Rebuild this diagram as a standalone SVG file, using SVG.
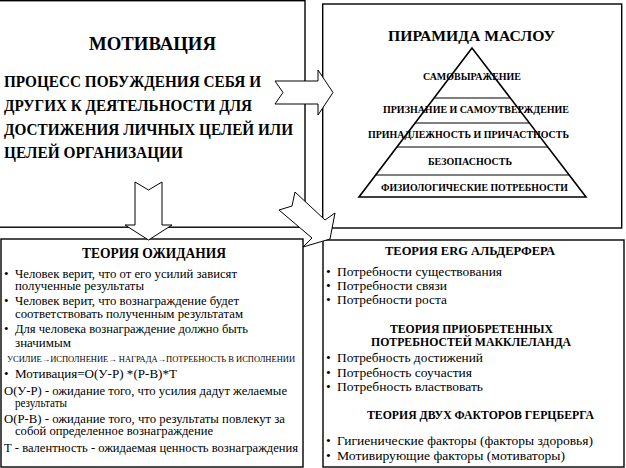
<svg xmlns="http://www.w3.org/2000/svg" width="626" height="468" viewBox="0 0 626 468" font-family="Liberation Serif">
<style>
.box{fill:#fff;stroke:#000;stroke-width:1.4}
.arr{fill:#fff;stroke:#000;stroke-width:1}
.ln{stroke:#000;stroke-width:1.2;fill:none}
</style>
<rect width="626" height="468" fill="#fff"/>
<g id="motivation">
<rect class="box" x="-2" y="0.7" width="307" height="226.5"/>
<text font-family="Liberation Serif" font-size="18.5" font-weight="bold" x="89" y="50" textLength="127" lengthAdjust="spacingAndGlyphs">МОТИВАЦИЯ</text>
<text font-family="Liberation Serif" font-size="16" font-weight="bold" x="4" y="87" textLength="257" lengthAdjust="spacingAndGlyphs">ПРОЦЕСС ПОБУЖДЕНИЯ СЕБЯ И</text>
<text font-family="Liberation Serif" font-size="16" font-weight="bold" x="4" y="111" textLength="248" lengthAdjust="spacingAndGlyphs">ДРУГИХ К ДЕЯТЕЛЬНОСТИ ДЛЯ</text>
<text font-family="Liberation Serif" font-size="16" font-weight="bold" x="4" y="135" textLength="289" lengthAdjust="spacingAndGlyphs">ДОСТИЖЕНИЯ ЛИЧНЫХ ЦЕЛЕЙ ИЛИ</text>
<text font-family="Liberation Serif" font-size="16" font-weight="bold" x="4" y="158" textLength="179" lengthAdjust="spacingAndGlyphs">ЦЕЛЕЙ ОРГАНИЗАЦИИ</text>
</g>
<g id="maslow">
<rect class="box" x="322.7" y="4" width="299" height="224"/>
<text font-family="Liberation Serif" font-size="14.5" font-weight="bold" x="388" y="41" textLength="167" lengthAdjust="spacingAndGlyphs">ПИРАМИДА  МАСЛОУ</text>
<polygon points="472,48 359,197 586,197" fill="none" stroke="#000" stroke-width="1.6"/>
<line class="ln" x1="434" y1="98" x2="510" y2="98"/>
<line class="ln" x1="415" y1="123" x2="529" y2="123"/>
<line class="ln" x1="397" y1="147" x2="548" y2="147"/>
<line class="ln" x1="376" y1="175" x2="569" y2="175"/>
<text font-family="Liberation Serif" font-size="10" font-weight="bold" x="423" y="80" textLength="98" lengthAdjust="spacingAndGlyphs">САМОВЫРАЖЕНИЕ</text>
<text font-family="Liberation Serif" font-size="10" font-weight="bold" x="383" y="113" textLength="186" lengthAdjust="spacingAndGlyphs">ПРИЗНАНИЕ И САМОУТВЕРЖДЕНИЕ</text>
<text font-family="Liberation Serif" font-size="10" font-weight="bold" x="368" y="138" textLength="201" lengthAdjust="spacingAndGlyphs">ПРИНАДЛЕЖНОСТЬ И ПРИЧАСТНОСТЬ</text>
<text font-family="Liberation Serif" font-size="10" font-weight="bold" x="428" y="165" textLength="84" lengthAdjust="spacingAndGlyphs">БЕЗОПАСНОСТЬ</text>
<text font-family="Liberation Serif" font-size="10" font-weight="bold" x="381" y="191" textLength="187" lengthAdjust="spacingAndGlyphs">ФИЗИОЛОГИЧЕСКИЕ ПОТРЕБНОСТИ</text>
</g>
<g id="expectancy">
<rect class="box" x="1" y="239" width="302" height="228"/>
<text font-family="Liberation Serif" font-size="14.5" font-weight="bold" x="82" y="258" textLength="144" lengthAdjust="spacingAndGlyphs">ТЕОРИЯ ОЖИДАНИЯ</text>
<text font-family="Liberation Serif" font-size="13" x="4" y="278">•</text>
<text font-family="Liberation Serif" font-size="13" x="15" y="278" textLength="222" lengthAdjust="spacingAndGlyphs">Человек верит, что от его усилий зависят</text>
<text font-family="Liberation Serif" font-size="13" x="15" y="290" textLength="129" lengthAdjust="spacingAndGlyphs">полученные результаты</text>
<text font-family="Liberation Serif" font-size="13" x="4" y="305">•</text>
<text font-family="Liberation Serif" font-size="13" x="15" y="305" textLength="224" lengthAdjust="spacingAndGlyphs">Человек верит, что вознаграждение будет</text>
<text font-family="Liberation Serif" font-size="13" x="15" y="318" textLength="228" lengthAdjust="spacingAndGlyphs">соответствовать полученным результатам</text>
<text font-family="Liberation Serif" font-size="13" x="4" y="333">•</text>
<text font-family="Liberation Serif" font-size="13" x="15" y="333" textLength="233" lengthAdjust="spacingAndGlyphs">Для человека вознаграждение должно быть</text>
<text font-family="Liberation Serif" font-size="13" x="15" y="347" textLength="56" lengthAdjust="spacingAndGlyphs">значимым</text>
<text font-family="Liberation Serif" font-size="8" x="7" y="362" textLength="288" lengthAdjust="spacingAndGlyphs">УСИЛИЕ→ИСПОЛНЕНИЕ→ НАГРАДА→ПОТРЕБНОСТЬ В ИСПОЛНЕНИИ</text>
<text font-family="Liberation Serif" font-size="13" x="4" y="378">•</text>
<text font-family="Liberation Serif" font-size="13" x="15" y="378" textLength="162" lengthAdjust="spacingAndGlyphs">Мотивация=О(У-Р) *(Р-В)*Т</text>
<text font-family="Liberation Serif" font-size="13" x="4" y="395" textLength="283" lengthAdjust="spacingAndGlyphs">О(У-Р) - ожидание того, что усилия дадут желаемые</text>
<text font-family="Liberation Serif" font-size="13" x="15" y="407" textLength="52" lengthAdjust="spacingAndGlyphs">результаты</text>
<text font-family="Liberation Serif" font-size="13" x="4" y="423" textLength="281" lengthAdjust="spacingAndGlyphs">О(Р-В) - ожидание того, что результаты повлекут за</text>
<text font-family="Liberation Serif" font-size="13" x="15" y="435" textLength="198" lengthAdjust="spacingAndGlyphs">собой определенное вознаграждение</text>
<text font-family="Liberation Serif" font-size="13" x="4" y="452" textLength="294" lengthAdjust="spacingAndGlyphs">Т - валентность - ожидаемая ценность вознаграждения</text>
</g>
<g id="needs">
<rect class="box" x="323" y="240" width="301" height="227"/>
<text font-family="Liberation Serif" font-size="11.5" font-weight="bold" x="385" y="255" textLength="170" lengthAdjust="spacingAndGlyphs">ТЕОРИЯ ERG АЛЬДЕРФЕРА</text>
<text font-family="Liberation Serif" font-size="13.5" x="326" y="276">•</text>
<text font-family="Liberation Serif" font-size="13.5" x="337" y="276" textLength="165" lengthAdjust="spacingAndGlyphs">Потребности существования</text>
<text font-family="Liberation Serif" font-size="13.5" x="326" y="290">•</text>
<text font-family="Liberation Serif" font-size="13.5" x="337" y="290" textLength="110" lengthAdjust="spacingAndGlyphs">Потребности связи</text>
<text font-family="Liberation Serif" font-size="13.5" x="326" y="304">•</text>
<text font-family="Liberation Serif" font-size="13.5" x="337" y="304" textLength="110" lengthAdjust="spacingAndGlyphs">Потребности роста</text>
<text font-family="Liberation Serif" font-size="11.5" font-weight="bold" x="390" y="333" textLength="163" lengthAdjust="spacingAndGlyphs">ТЕОРИЯ ПРИОБРЕТЕННЫХ</text>
<text font-family="Liberation Serif" font-size="11.5" font-weight="bold" x="371" y="346" textLength="200" lengthAdjust="spacingAndGlyphs">ПОТРЕБНОСТЕЙ МАККЛЕЛАНДА</text>
<text font-family="Liberation Serif" font-size="13.5" x="326" y="362">•</text>
<text font-family="Liberation Serif" font-size="13.5" x="337" y="362" textLength="146" lengthAdjust="spacingAndGlyphs">Потребность достижений</text>
<text font-family="Liberation Serif" font-size="13.5" x="326" y="377">•</text>
<text font-family="Liberation Serif" font-size="13.5" x="337" y="377" textLength="135" lengthAdjust="spacingAndGlyphs">Потребность соучастия</text>
<text font-family="Liberation Serif" font-size="13.5" x="326" y="391">•</text>
<text font-family="Liberation Serif" font-size="13.5" x="337" y="391" textLength="146" lengthAdjust="spacingAndGlyphs">Потребность властвовать</text>
<text font-family="Liberation Serif" font-size="11.5" font-weight="bold" x="367" y="419" textLength="227" lengthAdjust="spacingAndGlyphs">ТЕОРИЯ ДВУХ ФАКТОРОВ ГЕРЦБЕРГА</text>
<text font-family="Liberation Serif" font-size="13.5" x="326" y="445">•</text>
<text font-family="Liberation Serif" font-size="13.5" x="337" y="445" textLength="256" lengthAdjust="spacingAndGlyphs">Гигиенические факторы (факторы здоровья)</text>
<text font-family="Liberation Serif" font-size="13.5" x="326" y="460">•</text>
<text font-family="Liberation Serif" font-size="13.5" x="337" y="460" textLength="228" lengthAdjust="spacingAndGlyphs">Мотивирующие факторы (мотиваторы)</text>
</g>
<g id="connectors">
<polygon class="arr" points="275,81 318,81 318,70 333,92.5 318,115 318,104 275,104 283,92.5"/>
<polygon class="arr" points="135,182 148.5,190 162,182 162,225 172,225 148.5,240 125,225 135,225"/>
<polygon class="arr" points="295,192 325,220 335,213 330,239 303,247 312,238 279,210 292,206"/>
</g>
</svg>
